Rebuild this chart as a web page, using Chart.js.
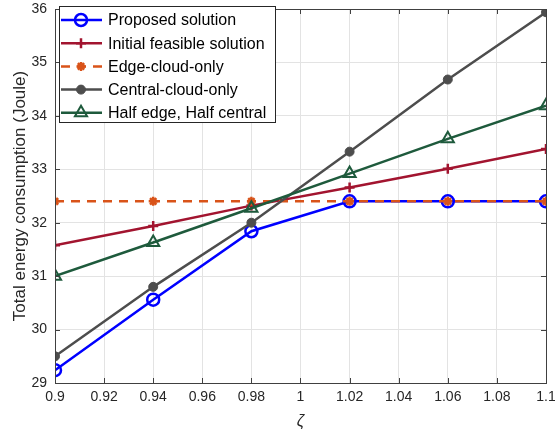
<!DOCTYPE html>
<html>
<head>
<meta charset="utf-8">
<script src="https://cdn.jsdelivr.net/npm/chart.js@4/dist/chart.umd.min.js"></script>
<style>
  html, body { margin: 0; padding: 0; background: #fff; }
  #wrap { width: 555px; height: 433px; }
</style>
</head>
<body>
<div id="wrap"><canvas id="energyChart" width="555" height="433"></canvas></div>
<script>
// zeta values on the x axis
const zeta = [0.9, 0.94, 0.98, 1.02, 1.06, 1.1];

// total energy consumption (Joule) per scheme
const proposed = [29.24, 30.56, 31.84, 32.4, 32.4, 32.4];
const initialFeasible = [31.58, 31.94, 32.32, 32.66, 33.01, 33.38];
const edgeCloudOnly = [32.4, 32.4, 32.4, 32.4, 32.4, 32.4];
const centralCloudOnly = [29.5, 30.8, 32.0, 33.33, 34.68, 35.94];
const halfEdgeHalfCentral = [31.0, 31.63, 32.27, 32.92, 33.57, 34.19];

const xTicks = [0.9, 0.92, 0.94, 0.96, 0.98, 1, 1.02, 1.04, 1.06, 1.08, 1.1];
const yTicks = [29, 30, 31, 32, 33, 34, 35, 36];

const font = "'Liberation Sans', Arial, Helvetica, sans-serif";

function toPoints(values) {
    return zeta.map((z, i) => ({ x: z, y: values[i] }));
}

// MATLAB-ish box with inward ticks on all four sides
const boxFrame = {
    id: 'boxFrame',
    afterDatasetsDraw(chart) {
        const { ctx, chartArea: a, scales } = chart;
        ctx.save();
        ctx.strokeStyle = '#404040';
        ctx.lineWidth = 1;
        ctx.beginPath();
        xTicks.forEach(t => {
            const x = Math.round(scales.x.getPixelForValue(t)) + 0.5;
            ctx.moveTo(x, a.bottom); ctx.lineTo(x, a.bottom - 5);
            ctx.moveTo(x, a.top); ctx.lineTo(x, a.top + 5);
        });
        yTicks.forEach(t => {
            const y = Math.round(scales.y.getPixelForValue(t)) + 0.5;
            ctx.moveTo(a.left, y); ctx.lineTo(a.left + 5, y);
            ctx.moveTo(a.right, y); ctx.lineTo(a.right - 5, y);
        });
        ctx.stroke();
        ctx.strokeRect(Math.round(a.left) + 0.5, Math.round(a.top) + 0.5,
            Math.round(a.right - a.left), Math.round(a.bottom - a.top));
        ctx.restore();
    }
};

// legend drawn inside the plot area, top-left
const insideLegend = {
    id: 'insideLegend',
    afterDraw(chart) {
        const { ctx } = chart;
        const sets = chart.data.datasets;
        const x0 = 59, y0 = 6, w = 216, h = 116;
        ctx.save();
        ctx.fillStyle = '#fff';
        ctx.fillRect(x0, y0, w, h);
        ctx.strokeStyle = '#262626';
        ctx.lineWidth = 1;
        ctx.strokeRect(x0 + 0.5, y0 + 0.5, w, h);
        sets.forEach((ds, i) => {
            const y = y0 + 14 + i * 23.2;
            ctx.strokeStyle = ds.borderColor;
            ctx.lineWidth = ds.borderWidth;
            ctx.setLineDash(ds.borderDash || []);
            ctx.beginPath();
            ctx.moveTo(x0 + 2, y);
            ctx.lineTo(x0 + 43, y);
            ctx.stroke();
            ctx.setLineDash([]);
            ctx.strokeStyle = ds.pointBorderColor;
            ctx.fillStyle = ds.pointBackgroundColor;
            ctx.lineWidth = ds.pointBorderWidth;
            Chart.helpers.drawPoint(ctx, {
                pointStyle: ds.pointStyle,
                radius: ds.pointRadius,
                borderWidth: ds.pointBorderWidth,
                rotation: 0
            }, x0 + 22, y);
            ctx.fillStyle = '#000';
            ctx.font = '16px ' + font;
            ctx.textBaseline = 'middle';
            ctx.textAlign = 'left';
            ctx.fillText(ds.label, x0 + 49, y + 1);
        });
        ctx.restore();
    }
};

function series(label, values, color, extra) {
    return Object.assign({
        label: label,
        data: toPoints(values),
        borderColor: color,
        backgroundColor: color,
        pointBorderColor: color,
        pointBackgroundColor: color,
        borderWidth: 2.5,
        pointBorderWidth: 2,
        tension: 0
    }, extra);
}

const chart = new Chart(document.getElementById('energyChart').getContext('2d'), {
    type: 'line',
    data: {
        datasets: [
            series('Proposed solution', proposed, '#0000ff', {
                pointStyle: 'circle', pointRadius: 6, pointBorderWidth: 2.5,
                pointBackgroundColor: 'rgba(0,0,0,0)', order: 5
            }),
            series('Initial feasible solution', initialFeasible, '#a2142f', {
                pointStyle: 'cross', pointRadius: 5, pointBorderWidth: 2.5, order: 4
            }),
            series('Edge-cloud-only', edgeCloudOnly, '#d95319', {
                pointStyle: 'star', pointRadius: 4.5, pointBorderWidth: 2.5,
                borderDash: [9, 7], order: 3
            }),
            series('Central-cloud-only', centralCloudOnly, '#4d4d4d', {
                pointStyle: 'circle', pointRadius: 4.5, pointBorderWidth: 1, order: 2
            }),
            series('Half edge, Half central', halfEdgeHalfCentral, '#1e5a3c', {
                pointStyle: 'triangle', pointRadius: 7, pointBorderWidth: 2,
                pointBackgroundColor: 'rgba(0,0,0,0)', order: 1
            })
        ]
    },
    options: {
        responsive: false,
        animation: false,
        layout: { padding: { left: 0, right: 7, top: 6, bottom: 0 } },
        plugins: {
            legend: { display: false },
            tooltip: { enabled: false }
        },
        scales: {
            x: {
                type: 'linear',
                min: 0.9,
                max: 1.1,
                afterBuildTicks(scale) {
                    scale.ticks = xTicks.map(v => ({ value: v }));
                },
                afterFit(scale) {
                    scale.height = 50;
                    scale.paddingLeft = 0;
                    scale.paddingRight = 0;
                },
                grid: { color: '#e3e3e3', lineWidth: 1, drawTicks: false },
                border: { display: false },
                ticks: {
                    padding: 6,
                    maxRotation: 0,
                    autoSkip: false,
                    color: '#262626',
                    font: { family: font, size: 14 },
                    callback: v => String(parseFloat(v.toFixed(2)))
                },
                title: {
                    display: true,
                    text: 'ζ',
                    color: '#262626',
                    font: { family: font, size: 16, style: 'italic' },
                    padding: { top: 0, bottom: 2 }
                }
            },
            y: {
                min: 29,
                max: 36,
                afterBuildTicks(scale) {
                    scale.ticks = yTicks.map(v => ({ value: v }));
                },
                afterFit(scale) {
                    scale.width = 55;
                    scale.paddingTop = 0;
                    scale.paddingBottom = 0;
                },
                grid: { color: '#e3e3e3', lineWidth: 1, drawTicks: false },
                border: { display: false },
                ticks: {
                    padding: 8,
                    color: '#262626',
                    font: { family: font, size: 14 }
                },
                title: {
                    display: true,
                    text: 'Total energy consumption (Joule)',
                    color: '#262626',
                    font: { family: font, size: 17 },
                    padding: { top: 10, bottom: 0 }
                }
            }
        }
    },
    plugins: [boxFrame, insideLegend]
});
</script>
</body>
</html>
